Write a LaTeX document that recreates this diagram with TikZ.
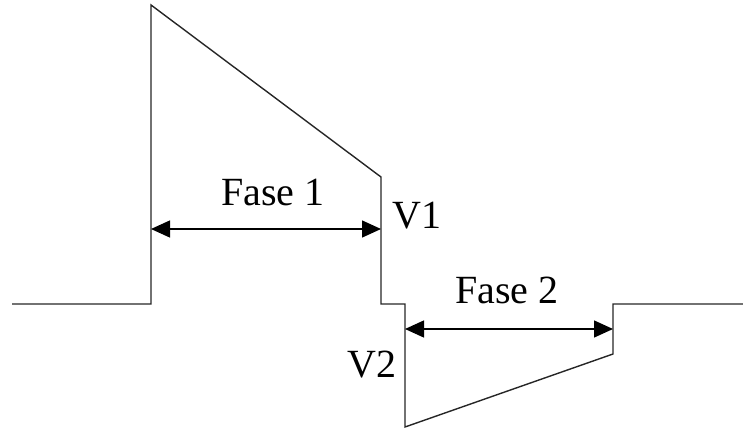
\documentclass[tikz,border=0pt]{standalone}
\usepackage{fontspec}
\setmainfont{Liberation Serif}
\usetikzlibrary{arrows.meta}
\begin{document}
\begin{tikzpicture}[x=1pt,y=-1pt,
  wave/.style={line width=1.4pt, line join=miter, draw=black!85},
  dim/.style={line width=1.4pt, {Triangle[length=19pt,width=17pt]}-{Triangle[length=19pt,width=17pt]}},
  lbl/.style={font=\fontsize{40}{40}\selectfont, anchor=base, inner sep=0pt}]
\useasboundingbox (0,0) rectangle (743,430);
\coordinate (p0) at (12,304);
\coordinate (p1) at (151,304);
\coordinate (p2) at (151,5);
\coordinate (p3) at (381,177);
\coordinate (p4) at (381,304);
\coordinate (p5) at (405,304);
\coordinate (p6) at (405,427);
\coordinate (p7) at (613,354);
\coordinate (p8) at (613,304);
\coordinate (p9) at (743,304);
\draw[wave] (p0) -- (p1) -- (p2) -- (p3) -- (p4) -- (p5) -- (p6) -- (p7) -- (p8) -- (p9);
\coordinate (a1) at (151,229);
\coordinate (b1) at (381,229);
\coordinate (a2) at (405,329);
\coordinate (b2) at (613,329);
\draw[dim] (a1) -- (b1);
\draw[dim] (a2) -- (b2);
\node[lbl] (f1) at (273,205) {Fase 1};
\node[lbl] (f2) at (507,303) {Fase 2};
\node[lbl] (v1) at (417,229) {V1};
\node[lbl] (v2) at (372,377) {V2};
\end{tikzpicture}
\end{document}
